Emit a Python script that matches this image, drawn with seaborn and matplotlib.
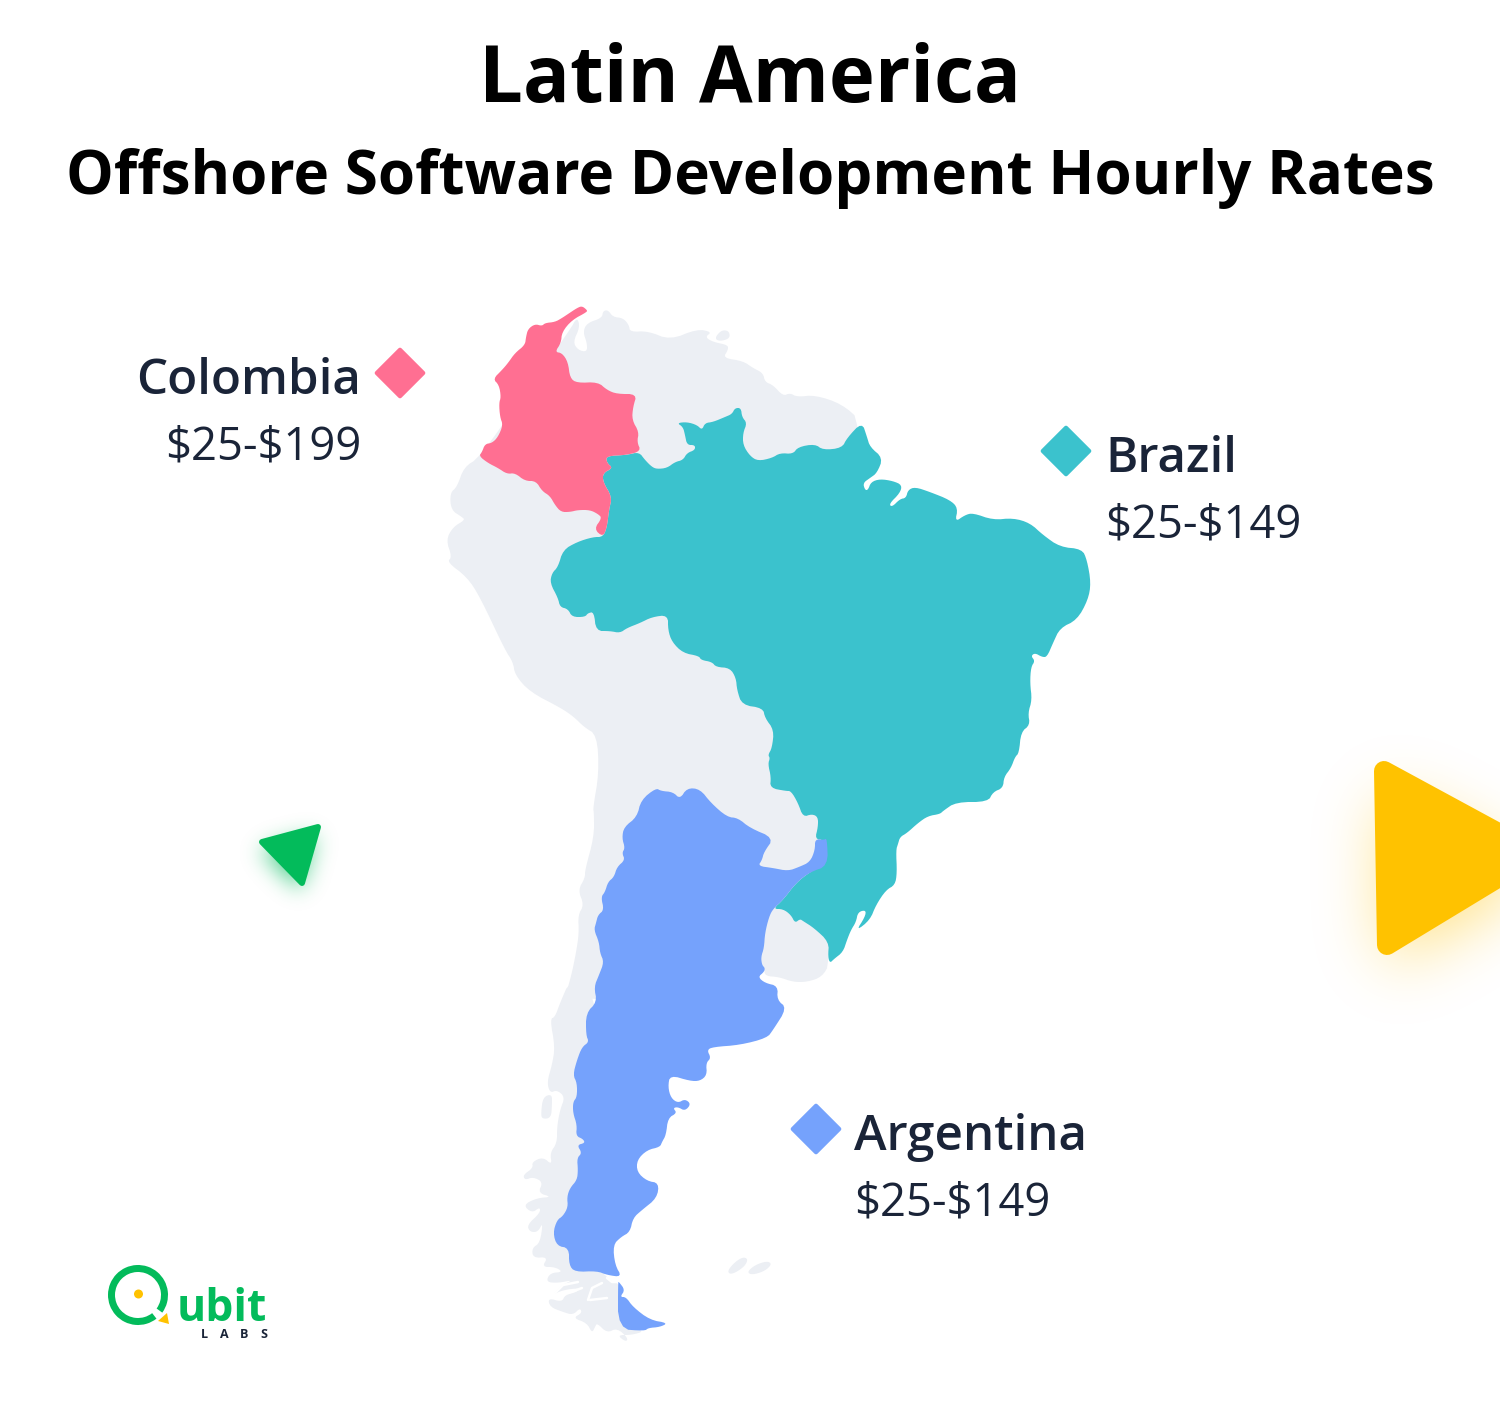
import numpy as np
import pandas as pd
import matplotlib
matplotlib.use("Agg")
import matplotlib.pyplot as plt
from matplotlib.colors import to_rgb
from matplotlib.patches import Polygon, Wedge, Circle
import seaborn as sns

countries = ["Colombia", "Brazil", "Argentina"]
rates = ["$25-$199", "$25-$149", "$25-$149"]

COLORS = {"Colombia": "#FF6F92", "Brazil": "#3BC2CD", "Argentina": "#75A2FC"}
LAND = "#ECEFF4"
INK = "#1A2438"
GREEN = "#03BB5B"
YELLOW = "#FFC200"

# Outlines, x/y in reference pixels
colombia_outline = [
    (587, 310), (582, 306), (577, 308), (568, 314), (562, 318), (555, 322), (545, 323), (542, 326),
    (535, 324), (528, 329), (526, 337), (525, 345), (515, 353), (508, 363), (502, 370), (493, 379),
    (499, 385), (501, 397), (499, 403), (500, 417), (503, 425), (498, 437), (492, 443), (485, 444),
    (482, 452), (479, 456), (488, 463), (498, 468), (507, 474), (515, 473), (525, 481), (536, 481),
    (542, 491), (550, 496), (555, 505), (561, 512), (570, 512), (578, 510), (590, 510), (598, 514),
    (602, 518), (594, 529), (603, 537), (607, 527), (609, 510), (612, 497), (603, 482), (603, 473),
    (613, 468), (607, 463), (606, 456), (627, 455), (641, 451), (637, 442), (639, 432), (632, 420),
    (633, 407), (637, 394), (617, 394), (607, 390), (598, 382), (577, 383), (570, 378), (568, 362),
    (562, 353), (555, 352), (561, 343), (562, 332), (572, 320), (587, 312),
]
brazil_outline = [
    (606, 456), (627, 455), (639, 452), (645, 460), (652, 467), (657, 469), (667, 468), (675, 462),
    (683, 460), (687, 453), (695, 450), (695, 445), (687, 445), (685, 435), (683, 427), (677, 423),
    (687, 422), (697, 425), (702, 430), (705, 423), (713, 422), (725, 417), (732, 414), (735, 408),
    (741, 408), (742, 417), (747, 423), (743, 433), (743, 445), (750, 456), (758, 461), (772, 458),
    (780, 453), (793, 454), (798, 447), (815, 444), (823, 450), (842, 448), (847, 438), (862, 422),
    (867, 437), (870, 447), (883, 458), (877, 473), (870, 478), (863, 483), (865, 490), (868, 490),
    (871, 482), (880, 479), (893, 481), (902, 485), (900, 493), (889, 504), (892, 507), (900, 499),
    (906, 498), (908, 490), (915, 487), (930, 492), (950, 500), (958, 508), (955, 522), (965, 515),
    (973, 513), (993, 520), (1013, 518), (1030, 523), (1043, 535), (1060, 547), (1082, 549),
    (1087, 560), (1091, 583), (1088, 600), (1077, 620), (1060, 628), (1053, 643), (1047, 657),
    (1042, 657), (1035, 653), (1031, 656), (1035, 661), (1031, 667), (1030, 683), (1032, 700),
    (1028, 713), (1030, 725), (1021, 732), (1019, 753), (1015, 757), (1011, 768), (1004, 777),
    (1003, 788), (993, 792), (988, 802), (956, 802), (943, 811), (940, 814), (928, 816), (918, 823),
    (907, 833), (900, 837), (898, 844), (896, 850), (897, 873), (895, 885), (886, 890), (876, 905),
    (870, 920), (856, 931), (865, 917), (866, 910), (858, 912), (856, 922), (851, 930), (847, 940),
    (843, 952), (834, 959), (830, 963), (828, 957), (829, 942), (814, 928), (803, 921), (800, 919),
    (795, 923), (791, 915), (783, 909), (773, 909), (783, 900), (796, 883), (810, 872), (825, 864),
    (826, 847), (824, 840), (815, 839), (818, 827), (818, 817), (812, 814), (803, 817), (798, 803),
    (791, 791), (786, 791), (770, 788), (771, 777), (768, 764), (770, 758), (768, 755), (772, 748),
    (774, 730), (765, 718), (763, 708), (742, 705), (737, 690), (736, 678), (730, 668), (716, 667),
    (712, 662), (701, 660), (699, 656), (683, 653), (672, 642), (668, 630), (668, 615), (652, 617),
    (640, 623), (627, 628), (620, 633), (610, 631), (596, 631), (594, 612), (588, 613), (585, 617),
    (572, 617), (568, 609), (560, 607), (558, 598), (550, 583), (552, 573), (558, 567), (563, 550),
    (577, 542), (593, 537), (603, 537), (607, 527), (609, 510), (612, 497), (603, 482), (603, 473),
    (613, 468), (607, 463),
]
argentina_outline = [
    (641, 800), (656, 788), (661, 791), (673, 792), (680, 799), (687, 788), (700, 789), (711, 803),
    (727, 817), (738, 818), (750, 828), (774, 838), (764, 852), (762, 860), (758, 866), (773, 868),
    (788, 871), (799, 867), (810, 862), (815, 850), (815, 839), (824, 840), (827, 838), (828, 866),
    (810, 872), (796, 883), (783, 900), (773, 909), (769, 917), (765, 933), (764, 948), (761, 957),
    (762, 965), (765, 968), (764, 972), (758, 977), (765, 983), (778, 986), (777, 1000), (787, 1008),
    (773, 1030), (767, 1038), (740, 1045), (713, 1047), (707, 1050), (711, 1058), (706, 1063),
    (707, 1075), (700, 1081), (690, 1081), (670, 1075), (668, 1087), (671, 1098), (678, 1103),
    (685, 1099), (691, 1104), (685, 1111), (678, 1107), (673, 1108), (677, 1113), (668, 1118),
    (666, 1135), (662, 1142), (660, 1147), (647, 1150), (637, 1160), (637, 1172), (647, 1181),
    (659, 1183), (657, 1198), (642, 1210), (633, 1218), (630, 1232), (621, 1237), (613, 1245),
    (615, 1265), (622, 1277), (607, 1275), (597, 1271), (575, 1272), (569, 1265), (569, 1248),
    (557, 1246), (553, 1233), (557, 1220), (563, 1216), (568, 1207), (567, 1197), (570, 1188),
    (577, 1180), (578, 1170), (577, 1158), (582, 1153), (577, 1145), (585, 1143), (583, 1139),
    (576, 1136), (577, 1125), (573, 1113), (573, 1102), (577, 1097), (577, 1083), (573, 1075),
    (577, 1060), (582, 1047), (589, 1042), (586, 1035), (586, 1013), (597, 1002), (594, 987),
    (599, 975), (604, 962), (600, 953), (599, 942), (594, 930), (596, 923), (598, 915), (604, 910),
    (601, 897), (605, 892), (608, 882), (614, 877), (617, 867), (625, 860), (622, 853), (625, 848),
    (622, 838), (624, 827), (637, 817),
]
fuego_outline = [
    (619, 1282), (625, 1290), (620, 1297), (626, 1297), (633, 1307), (650, 1320), (668, 1323),
    (660, 1327), (648, 1328), (645, 1331), (618, 1329), (618, 1282),
]
north_land = [
    (479, 458), (520, 400), (570, 330), (577, 317), (580, 327), (573, 342), (578, 350), (587, 352),
    (587, 343), (583, 332), (587, 323), (602, 318), (603, 311), (608, 310), (613, 317), (623, 318),
    (629, 325), (630, 332), (648, 331), (670, 340), (697, 329), (712, 332), (705, 337), (713, 342),
    (728, 345), (728, 350), (723, 358), (743, 361), (753, 368), (763, 373), (765, 382), (773, 385),
    (783, 396), (790, 393), (797, 397), (815, 395), (842, 404), (862, 422), (862, 600), (830, 963),
    (822, 977), (807, 982), (793, 982), (779, 977), (765, 976), (764, 968), (700, 1000), (564, 1000),
    (571, 977), (576, 953), (579, 933), (578, 915), (584, 905), (578, 890), (585, 878), (585, 870),
    (594, 837), (594, 813), (593, 808), (599, 773), (597, 735), (584, 727), (574, 717), (561, 708),
    (530, 692), (515, 675), (513, 662), (505, 650), (480, 597), (467, 577), (447, 562), (452, 557),
    (446, 540), (453, 527), (465, 520), (462, 517), (451, 510), (450, 493), (457, 487), (464, 467),
]
south_land = [
    (570, 980), (560, 1003), (555, 1017), (550, 1019), (555, 1047), (552, 1065), (547, 1082),
    (550, 1093), (557, 1090), (565, 1097), (560, 1110), (557, 1127), (557, 1143), (550, 1153),
    (552, 1165), (543, 1157), (532, 1162), (533, 1168), (523, 1175), (525, 1180), (533, 1177),
    (543, 1182), (538, 1193), (552, 1197), (537, 1198), (523, 1205), (532, 1213), (540, 1207),
    (540, 1213), (527, 1225), (530, 1232), (538, 1232), (543, 1222), (540, 1243), (532, 1248),
    (533, 1258), (548, 1257), (542, 1267), (555, 1267), (563, 1272), (550, 1273), (546, 1282),
    (558, 1283), (573, 1280), (562, 1285), (552, 1295), (563, 1290), (580, 1288), (577, 1292),
    (565, 1295), (562, 1302), (548, 1298), (550, 1307), (563, 1312), (573, 1315), (580, 1308),
    (582, 1313), (573, 1318), (587, 1323), (592, 1333), (595, 1327), (597, 1323), (607, 1333),
    (617, 1328), (628, 1338), (626, 1342), (617, 1335), (632, 1335), (645, 1331), (625, 1326),
    (619, 1300), (619, 1283), (612, 1282), (607, 1277), (600, 1270), (600, 990),
]
islands = [
    [(541, 1113), (543, 1097), (552, 1094), (552, 1105), (551, 1118), (542, 1119)],
    [(716, 336), (722, 330), (729, 331), (730, 338), (722, 341), (716, 340)],
    [(728, 1270), (735, 1262), (743, 1257), (748, 1259), (745, 1266), (735, 1273), (729, 1274)],
    [(747, 1272), (755, 1265), (767, 1261), (772, 1264), (765, 1271), (752, 1275)],
]
fjords = [
    [(553, 1295), (563, 1285), (578, 1282)],
    [(568, 1293), (582, 1288)],
    [(588, 1300), (592, 1288), (602, 1283)],
    [(590, 1300), (607, 1298)],
    [(607, 1278), (612, 1282), (619, 1282)],
]
outlines = {"Brazil": [brazil_outline], "Colombia": [colombia_outline],
            "Argentina": [argentina_outline, fuego_outline]}

marker_xy = {"Colombia": (400, 373), "Brazil": (1066, 451), "Argentina": (816, 1129)}
label_xy = {"Colombia": (361, 'right', 394, 460), "Brazil": (1105, 'left', 472, 538),
            "Argentina": (854, 'left', 1150, 1215)}


def smooth(points, rounds=2):
    # Chaikin corner cutting, the traced outlines are too angular otherwise
    pts = np.array(points, dtype=float)
    for _ in range(rounds):
        nxt = np.roll(pts, -1, axis=0)
        pts = np.column_stack([0.75 * pts + 0.25 * nxt, 0.25 * pts + 0.75 * nxt]).reshape(-1, 2)
    return pts


def blur(mask, sigma):
    # separable gaussian, only numpy around here
    radius = int(3 * sigma)
    kernel = np.exp(-0.5 * (np.arange(-radius, radius + 1) / sigma) ** 2)
    kernel /= kernel.sum()
    mask = np.apply_along_axis(np.convolve, 0, mask, kernel, mode='same')
    return np.apply_along_axis(np.convolve, 1, mask, kernel, mode='same')


def add_glow(ax, tri, color, box, sigma, strength, dx=0, dy=0):
    x0, x1, y0, y1 = box
    xx, yy = np.meshgrid(np.arange(x0, x1) + 0.5, np.arange(y0, y1) + 0.5)
    pts = np.array(tri, dtype=float) + (dx, dy)
    # inside test for a triangle, same cross sign on all three edges
    signs = []
    for a, b in zip(pts, np.roll(pts, -1, axis=0)):
        signs.append((b[0] - a[0]) * (yy - a[1]) - (b[1] - a[1]) * (xx - a[0]) >= 0)
    mask = np.where(np.all(signs, axis=0) | np.all(np.logical_not(signs), axis=0), 1.0, 0.0)
    rgba = np.zeros(mask.shape + (4,))
    rgba[..., :3] = to_rgb(color)
    rgba[..., 3] = blur(mask, sigma) * strength
    ax.imshow(rgba, extent=(x0, x1, y1, y0), aspect='auto', interpolation='bilinear', zorder=1)


sns.set_theme(style="white")
plt.rcParams['font.family'] = ['Open Sans', 'DejaVu Sans']

fig = plt.figure(figsize=(15, 14.14), dpi=100)
ax = fig.add_axes([0, 0, 1, 1])
ax.set_axis_off()

# Land underneath, highlighted countries on top
for shape in [north_land, south_land] + islands:
    ax.add_patch(Polygon(smooth(shape), closed=True, facecolor=LAND, edgecolor='none', zorder=2))
for line in fjords:
    xs, ys = zip(*line)
    ax.plot(xs, ys, color='white', lw=1.8, solid_capstyle='round', zorder=2.5)
for country in ["Brazil", "Colombia", "Argentina"]:
    for shape in outlines[country]:
        ax.add_patch(Polygon(smooth(shape), closed=True, facecolor=COLORS[country], edgecolor='none', zorder=3))

# Decorative triangles with soft shadows
green_tri = [(262, 842), (318, 827), (302, 883)]
add_glow(ax, green_tri, GREEN, (200, 380, 770, 950), 11, 0.7, dx=-2, dy=8)
ax.add_patch(Polygon(green_tri, closed=True, facecolor=GREEN, edgecolor=GREEN, lw=4.3, joinstyle='round', zorder=4))
yellow_tri = [(1384, 771), (1387, 945), (1537, 854)]
add_glow(ax, yellow_tri, YELLOW, (1230, 1620, 630, 1120), 32, 0.5, dy=22)
ax.add_patch(Polygon(yellow_tri, closed=True, facecolor=YELLOW, edgecolor=YELLOW, lw=14.4, joinstyle='round', zorder=4))

# Diamonds go through seaborn, one per country
markers = pd.DataFrame({
    "country": countries,
    "x": [marker_xy[c][0] for c in countries],
    "y": [marker_xy[c][1] for c in countries],
})
sns.scatterplot(data=markers, x="x", y="y", hue="country", palette=COLORS, marker="D", s=560,
                linewidth=3, legend=False, ax=ax, zorder=5)
for coll in ax.collections:
    coll.set_edgecolor(coll.get_facecolor())
ax.set_xlim(0, 1500)
ax.set_ylim(1414, 0)

for country, rate in zip(countries, rates):
    x, ha, y_name, y_rate = label_xy[country]
    ax.text(x, y_name, country, ha=ha, va='baseline', fontsize=35.5, fontweight='semibold', color=INK, zorder=6)
    ax.text(x, y_rate, rate.replace("$", r"\$"), ha=ha, va='baseline', fontsize=32.7, color=INK, zorder=6)

ax.text(750, 102, "Latin America", ha='center', va='baseline', fontsize=56, fontweight='bold', color='black')
ax.text(750, 194, "Offshore Software Development Hourly Rates", ha='center', va='baseline',
        fontsize=43.3, fontweight='bold', color='black')

# Logo
ax.add_patch(Wedge((138, 1295), 30, 52, 396, width=7, facecolor=GREEN, edgecolor='none', zorder=6))
ax.add_patch(Circle((138.5, 1294), 4.5, facecolor=YELLOW, edgecolor='none', zorder=6))
ax.add_patch(Polygon([(158, 1321), (167, 1313), (169, 1324)], closed=True, facecolor=YELLOW, edgecolor='none', zorder=6))
ax.text(177, 1321, "ubit", ha='left', va='baseline', fontsize=32, fontweight='bold', color=GREEN, zorder=6)
for letter, lx in zip("LABS", [204, 224, 244, 264]):
    ax.text(lx, 1338, letter, ha='center', va='baseline', fontsize=9, fontweight='bold', color=INK, zorder=6)

fig.savefig("out.png", dpi=100, facecolor='white')
plt.close(fig)
